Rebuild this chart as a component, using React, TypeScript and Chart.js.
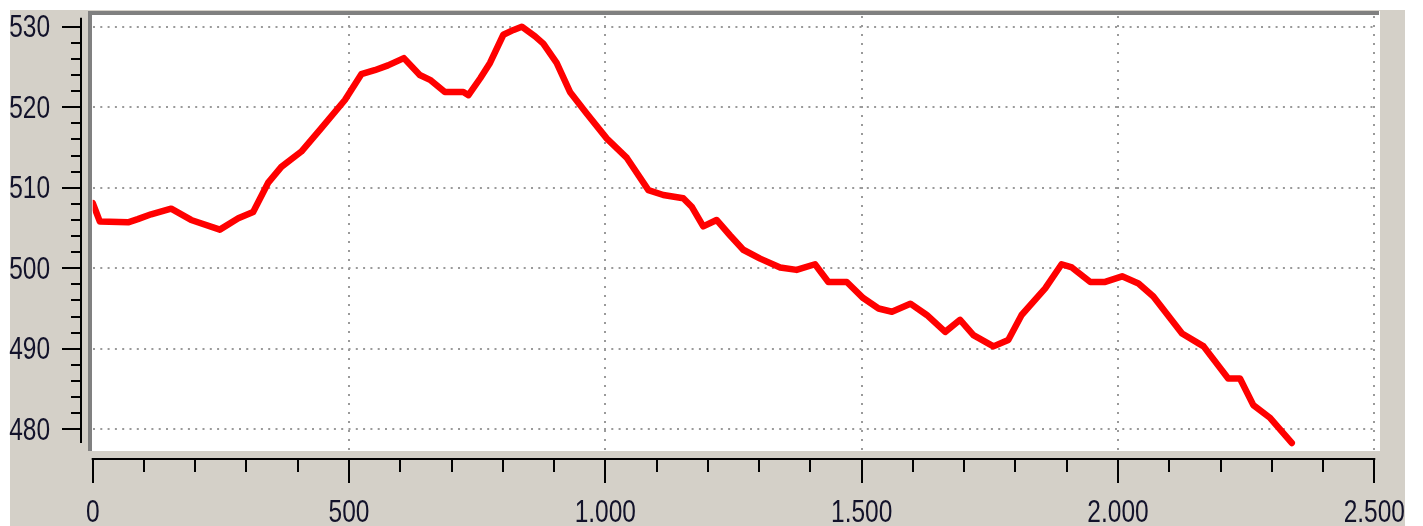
import { useEffect, useRef } from "react";
import { Chart, registerables } from "chart.js";

Chart.register(...registerables);

// Distance along the route (m)
const distances = [
  0, 14, 69, 88, 114, 153, 192, 248, 284, 313,
  342, 368, 407, 446, 492, 524, 550, 576, 607, 638,
  658, 687, 723, 733, 756, 775, 801, 821, 837, 863,
  879, 905, 931, 964, 1003, 1042, 1084, 1113, 1152, 1169,
  1191, 1217, 1243, 1269, 1302, 1341, 1373, 1409, 1435, 1471,
  1503, 1533, 1559, 1595, 1627, 1663, 1692, 1718, 1757, 1786,
  1812, 1858, 1890, 1910, 1946, 1975, 2008, 2040, 2069, 2125,
  2167, 2215, 2238, 2264, 2297, 2339,
];

// Elevation (m)
const elevations = [
  508.1, 505.8, 505.7, 506.1, 506.7, 507.4, 506.0, 504.8, 506.2, 507.0,
  510.6, 512.6, 514.5, 517.4, 520.9, 524.1, 524.6, 525.2, 526.1, 524.0,
  523.4, 521.9, 521.9, 521.5, 523.6, 525.5, 529.0, 529.6, 530.0, 528.8,
  527.9, 525.5, 521.9, 519.2, 516.1, 513.7, 509.7, 509.1, 508.7, 507.6,
  505.2, 506.0, 504.1, 502.3, 501.2, 500.1, 499.8, 500.5, 498.3, 498.3,
  496.3, 495.0, 494.6, 495.6, 494.2, 492.1, 493.6, 491.7, 490.3, 491.1,
  494.2, 497.5, 500.5, 500.1, 498.3, 498.3, 499.0, 498.1, 496.5, 491.9,
  490.3, 486.3, 486.3, 483.0, 481.4, 478.3,
];

const yTicks = [480, 490, 500, 510, 520, 530];
const yTickLabels = ["480", "490", "500", "510", "520", "530"];
const xTicks = [0, 500, 1000, 1500, 2000, 2500];
const xTickLabels = ["0", "500", "1.000", "1.500", "2.000", "2.500"];

const FONT = "31px 'Liberation Sans', Arial, sans-serif";
const TEXT_SCALE = 0.79;
const TEXT_COLOR = "#12122a";

const framePlugin = {
  id: "frame",
  beforeDraw(chart: any) {
    const ctx = chart.ctx as CanvasRenderingContext2D;
    ctx.save();
    ctx.fillStyle = "#ffffff";
    ctx.fillRect(0, 0, chart.width, chart.height);
    ctx.fillStyle = "#d4d0c8";
    ctx.fillRect(10, 10, 1395, chart.height - 10);
    ctx.fillStyle = "#ffffff";
    ctx.fillRect(88, 11, 1292, 440);
    ctx.restore();
  },
  afterDraw(chart: any) {
    const ctx = chart.ctx as CanvasRenderingContext2D;
    const xs = chart.scales.x;
    const ys = chart.scales.y;
    ctx.save();
    // sunken frame
    ctx.fillStyle = "#808080";
    ctx.fillRect(88, 11, 1291, 4);
    ctx.fillRect(88, 11, 4, 440);

    ctx.strokeStyle = "#000000";
    ctx.lineWidth = 2;
    // Y axis line
    const axX = 81;
    ctx.beginPath();
    ctx.moveTo(axX, ys.getPixelForValue(531.1));
    ctx.lineTo(axX, ys.getPixelForValue(478.3));
    ctx.stroke();
    for (let v = 480; v <= 530; v += 2) {
      const y = Math.round(ys.getPixelForValue(v));
      const major = v % 10 === 0;
      ctx.beginPath();
      ctx.moveTo(major ? 62 : 71, y);
      ctx.lineTo(axX, y);
      ctx.stroke();
    }
    // X axis line
    const axY = 459;
    ctx.beginPath();
    ctx.moveTo(xs.getPixelForValue(0) - 1, axY);
    ctx.lineTo(xs.getPixelForValue(2500) + 1, axY);
    ctx.stroke();
    for (let v = 0; v <= 2500; v += 100) {
      const x = Math.round(xs.getPixelForValue(v));
      const major = v % 500 === 0;
      ctx.beginPath();
      ctx.moveTo(x, axY - 1);
      ctx.lineTo(x, major ? 483 : 472);
      ctx.stroke();
    }

    // labels
    ctx.fillStyle = TEXT_COLOR;
    ctx.font = FONT;
    ctx.textBaseline = "alphabetic";
    ctx.textAlign = "right";
    yTicks.forEach((v, i) => {
      const y = ys.getPixelForValue(v);
      ctx.save();
      ctx.translate(50, y + 10.5);
      ctx.scale(TEXT_SCALE, 1);
      ctx.fillText(yTickLabels[i], 0, 0);
      ctx.restore();
    });
    ctx.textAlign = "center";
    xTicks.forEach((v, i) => {
      const x = xs.getPixelForValue(v);
      ctx.save();
      ctx.translate(x, 521.5);
      ctx.scale(TEXT_SCALE, 1);
      ctx.fillText(xTickLabels[i], 0, 0);
      ctx.restore();
    });
    ctx.restore();
  },
};

export default function App() {
  const ref = useRef<HTMLCanvasElement>(null);
  useEffect(() => {
    const canvas = ref.current;
    if (!canvas) return;
    const chart = new Chart(canvas, {
      type: "line",
      data: {
        datasets: [
          {
            data: distances.map((d, i) => ({ x: d, y: elevations[i] })),
            borderColor: "#ff0000",
            borderWidth: 6.5,
            pointRadius: 0,
            tension: 0,
            fill: false,
            borderJoinStyle: "round",
            borderCapStyle: "round",
          },
        ],
      },
      options: {
        animation: false,
        responsive: false,
        maintainAspectRatio: false,
        devicePixelRatio: 1,
        events: [],
        layout: { padding: { left: 92.7, right: 48.7, top: 16, bottom: 76 } },
        plugins: { legend: { display: false }, tooltip: { enabled: false } },
        scales: {
          x: {
            type: "linear",
            min: 0,
            max: 2500,
            afterBuildTicks: (s: any) => {
              s.ticks = xTicks.map((v) => ({ value: v }));
            },
            ticks: { display: false },
            border: { display: false, dash: [2, 7] },
            grid: {
              drawTicks: false,
              color: (c: any) => (c.tick && c.tick.value === 0 ? "rgba(0,0,0,0)" : "#9a9a9a"),
              lineWidth: 2,
            } as any,
          },
          y: {
            type: "linear",
            min: 477.43,
            max: 531.33,
            afterBuildTicks: (s: any) => {
              s.ticks = yTicks.map((v) => ({ value: v }));
            },
            ticks: { display: false },
            border: { display: false, dash: [2, 5.3] },
            grid: {
              drawTicks: false,
              color: "#9a9a9a",
              lineWidth: 2,
            } as any,
          },
        },
      } as any,
      plugins: [framePlugin],
    });
    return () => chart.destroy();
  }, []);
  return (
    <div style={{ position: "fixed", left: 0, top: 0, width: 1423, height: 526, background: "#fff" }}>
      <canvas ref={ref} width={1423} height={526} style={{ display: "block" }} />
    </div>
  );
}
